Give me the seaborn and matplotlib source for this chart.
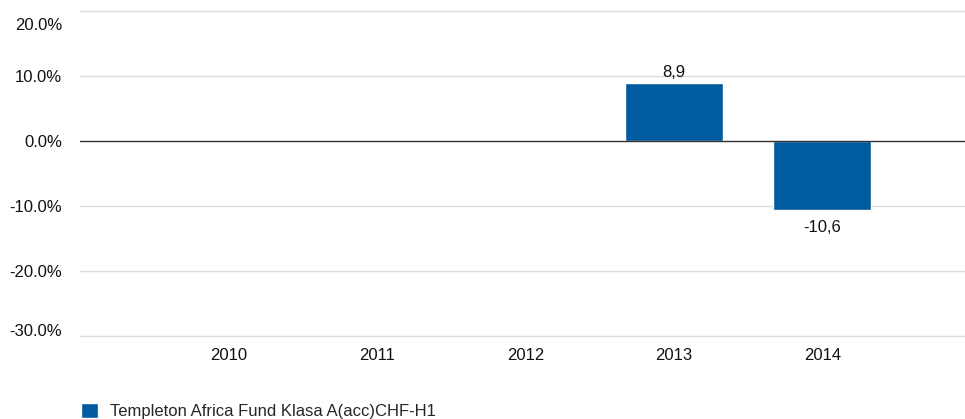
import numpy as np
import pandas as pd
import matplotlib
matplotlib.use("Agg")
import matplotlib.pyplot as plt
import matplotlib.transforms as mtransforms
import seaborn as sns

# data
years = ["2010", "2011", "2012", "2013", "2014"]
returns = [np.nan, np.nan, np.nan, 8.9, -10.6]
series_name = "Templeton Africa Fund Klasa A(acc)CHF-H1"
y_ticks = [20, 10, 0, -10, -20, -30]

bar_color = "#005b9f"
fs = 12

sns.set_theme(style="white")
plt.rcParams["font.family"] = ["Liberation Sans", "DejaVu Sans"]

df = pd.DataFrame({"year": years, "ret": returns})

fig = plt.figure(figsize=(9.65, 4.19), dpi=100)
ax = fig.add_axes([80 / 965, 1 - 337 / 419, 1 - 80 / 965, (337 - 10) / 419])

sns.barplot(data=df, x="year", y="ret", color=bar_color, width=0.66,
            saturation=1, ax=ax, label=series_name)

ax.set_xlim(-1, 4.96)
ax.set_ylim(-30.1, 20.1)
ax.set_yticks(y_ticks)
ax.set_yticklabels([f"{t:.1f}%" for t in y_ticks])
ax.set_xlabel("")
ax.set_ylabel("")

# grid and zero line
for t in y_ticks:
    if t == 0:
        continue
    ax.axhline(t, color="#dcdcdc", lw=1, zorder=0, clip_on=False)
ax.axhline(0, color="#333333", lw=1, zorder=3)

for s in ax.spines.values():
    s.set_visible(False)

ax.tick_params(axis="both", length=0, labelsize=fs, colors="#111111")
ax.tick_params(axis="y", pad=13)
ax.tick_params(axis="x", pad=8)

# the reference squeezes outer y labels inward a bit
shifts = {20: -13, -30: 6}
for lbl, t in zip(ax.get_yticklabels(), y_ticks):
    if t in shifts:
        off = mtransforms.ScaledTranslation(0, shifts[t] / 100, fig.dpi_scale_trans)
        lbl.set_transform(lbl.get_transform() + off)

# value labels
for i, v in enumerate(returns):
    if np.isnan(v):
        continue
    txt = f"{v:.1f}".replace(".", ",")
    if v >= 0:
        ax.annotate(txt, (i, v), xytext=(0, 2), textcoords="offset points",
                    ha="center", va="bottom", fontsize=fs, color="#111111")
    else:
        ax.annotate(txt, (i, v), xytext=(0, -7), textcoords="offset points",
                    ha="center", va="top", fontsize=fs, color="#111111")

if ax.legend_:
    ax.legend_.remove()
handles, labels = ax.get_legend_handles_labels()
fig.legend(handles[:1], labels[:1], loc="center left",
           bbox_to_anchor=(81 / 965, 1 - 411 / 419), frameon=False,
           handlelength=1.0, handleheight=1.0, handletextpad=0.75,
           fontsize=fs, borderaxespad=0, borderpad=0)

fig.savefig("out.png", dpi=100)
